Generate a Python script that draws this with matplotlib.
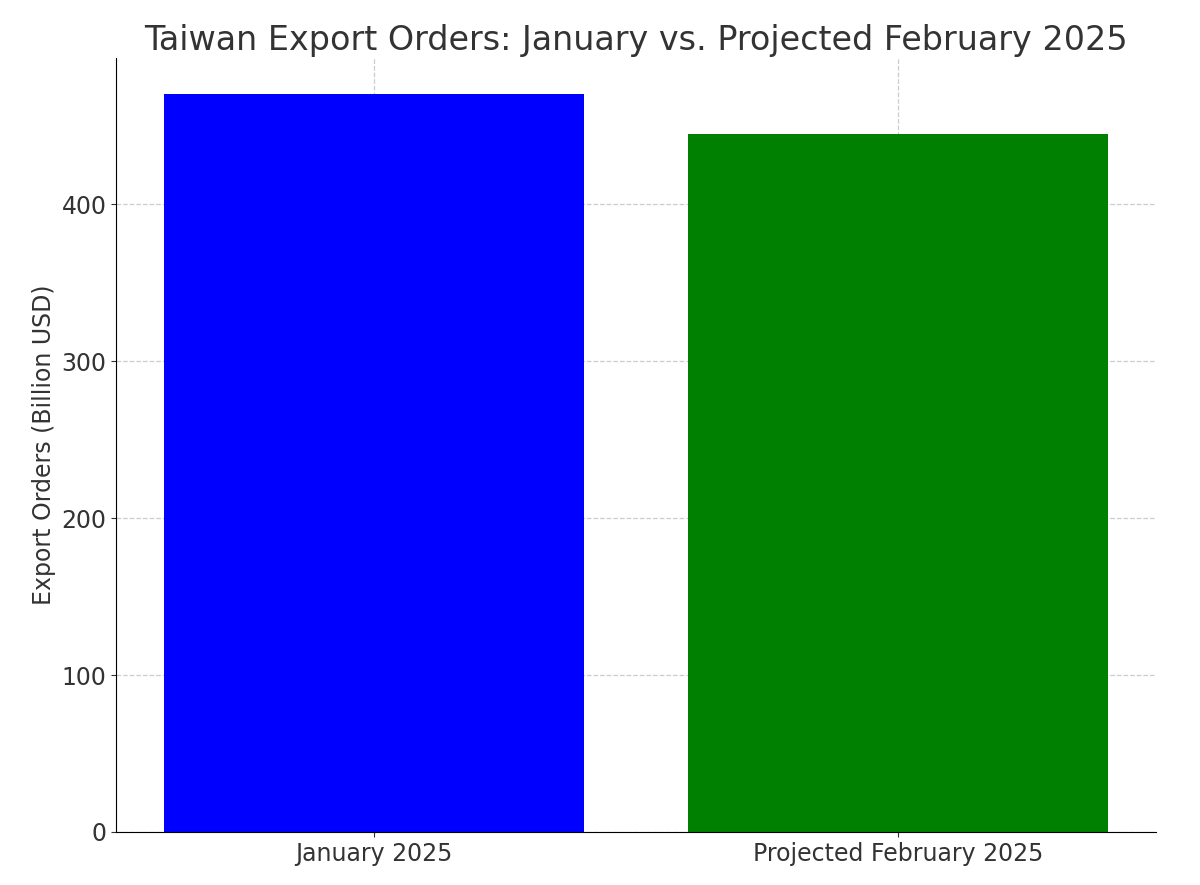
import matplotlib.pyplot as plt

categories = ["January 2025", "Projected February 2025"]
values = [470, 445]
colors = ["blue", "green"]

plt.rcParams['font.family'] = ['DejaVu Sans']
fig, ax = plt.subplots(figsize=(12, 8.85), dpi=100)
fig.subplots_adjust(left=0.097, right=0.963, top=0.934, bottom=0.06)
ax.bar(categories, values, color=colors, width=0.8, zorder=2)
ax.set_title("Taiwan Export Orders: January vs. Projected February 2025", fontsize=24, color="#333333")
ax.set_ylabel("Export Orders (Billion USD)", fontsize=17, color="#333333")
ax.tick_params(labelsize=17, colors="#333333")
ax.grid(True, linestyle="--", color="#cccccc", linewidth=0.9, zorder=3)
ax.spines['top'].set_visible(False)
ax.spines['right'].set_visible(False)
ax.set_ylim(0, 493)
fig.savefig("out.png")
